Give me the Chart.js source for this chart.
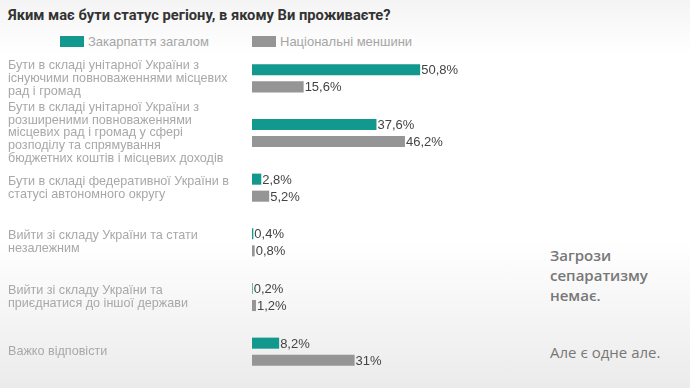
<!DOCTYPE html>
<html lang="uk">
<head>
<meta charset="UTF-8">
<title>Статус регіону</title>
<script src="https://cdn.jsdelivr.net/npm/chart.js@4.4.3/dist/chart.umd.min.js"></script>
<style>
  html, body { margin: 0; padding: 0; }
  body {
    width: 690px; height: 388px; position: relative; overflow: hidden;
    background: linear-gradient(#f4f4f4 0%, #ffffff 14%, #ffffff 62%, #ebebeb 100%);
    font-family: "Liberation Sans", Arial, sans-serif;
  }
  h1 {
    position: absolute; left: 8px; top: 6px; margin: 0;
    font: bold 14.7px Roboto, sans-serif; color: #333;
  }
  .legend { position: absolute; top: 34px; left: 60px; font-size: 13px; color: #a5a5a5; }
  .legend span { position: absolute; white-space: nowrap; top: 0; }
  .legend i { display: inline-block; width: 24px; height: 11px; vertical-align: -1px; margin-right: 4px; }
  .wrap { position: absolute; left: 0; top: 40px; width: 540px; height: 348px; }
  .note {
    position: absolute; left: 550px; font-family: "Open Sans", sans-serif;
    font-size: 15px; color: #777; line-height: 20px;
  }
</style>
</head>
<body>
<h1>Яким має бути статус регіону, в якому Ви проживаєте?</h1>
<div class="legend">
  <span style="left:0"><i style="background:#12988d"></i>Закарпаття загалом</span>
  <span style="left:192px"><i style="background:#959595"></i>Національні меншини</span>
</div>
<div class="wrap"><canvas id="mychart"></canvas></div>
<div class="note" style="top:245px;font-weight:600">Загрози<br>сепаратизму<br>немає.</div>
<div class="note" style="top:342px">Але є одне але.</div>

<script>
    const categories = [
        ['Бути в складі унітарної України з', 'існуючими повноваженнями місцевих', 'рад і громад'],
        ['Бути в складі унітарної України з', 'розширеними повноваженнями', 'місцевих рад і громад у сфері', 'розподілу та спрямування', 'бюджетних коштів і місцевих доходів'],
        ['Бути в складі федеративної України в', 'статусі автономного округу'],
        ['Вийти зі складу України та стати', 'незалежним'],
        ['Вийти зі складу України та', 'приєднатися до іншої держави'],
        'Важко відповісти'
    ];
    const zakarpattia = [50.8, 37.6, 2.8, 0.4, 0.2, 8.2];
    const minorities = [15.6, 46.2, 5.2, 0.8, 1.2, 31];
    const seriesNames = ['Закарпаття загалом', 'Національні меншини'];

    // підписи значень праворуч від стовпчиків
    const valueLabels = {
        id: 'valueLabels',
        afterDatasetsDraw(chart) {
            const ctx = chart.ctx;
            ctx.save();
            ctx.font = '13px "Liberation Sans", Arial, sans-serif';
            ctx.fillStyle = '#444';
            ctx.textBaseline = 'middle';
            chart.data.datasets.forEach((ds, i) => {
                chart.getDatasetMeta(i).data.forEach((bar, j) => {
                    const txt = String(ds.data[j]).replace('.', ',') + '%';
                    ctx.fillText(txt, bar.x + 1, bar.y + 1);
                });
            });
            ctx.restore();
        }
    };

    var data = {
        labels: categories,
        datasets: [
            {
                label: seriesNames[0],
                data: zakarpattia,
                backgroundColor: '#12988d',
                categoryPercentage: 0.623,
                barPercentage: 0.65
            },
            {
                label: seriesNames[1],
                data: minorities,
                backgroundColor: '#959595',
                categoryPercentage: 0.623,
                barPercentage: 0.65
            }
        ]
    };

    var config = {
        type: 'bar',
        data: data,
        options: {
            indexAxis: 'y',
            responsive: true,
            maintainAspectRatio: false,
            animation: false,
            layout: { padding: { left: 8, top: 11, bottom: 9, right: 0 } },
            scales: {
                x: { display: false, min: 0, max: 87 },
                y: {
                    grid: { display: false },
                    border: { display: false },
                    afterFit: (scale) => {
                        scale.width = 244;
                        scale.paddingTop = 0;
                        scale.paddingBottom = 0;
                    },
                    ticks: {
                        autoSkip: false,
                        crossAlign: 'far',
                        color: '#a8a8a8',
                        font: { family: '"Liberation Sans", Arial, sans-serif', size: 12.6, lineHeight: 1.03 }
                    }
                }
            },
            plugins: {
                legend: { display: false },
                tooltip: { enabled: false }
            }
        },
        plugins: [valueLabels]
    };

    var mychart = new Chart(document.getElementById('mychart'), config);
</script>
</body>
</html>
